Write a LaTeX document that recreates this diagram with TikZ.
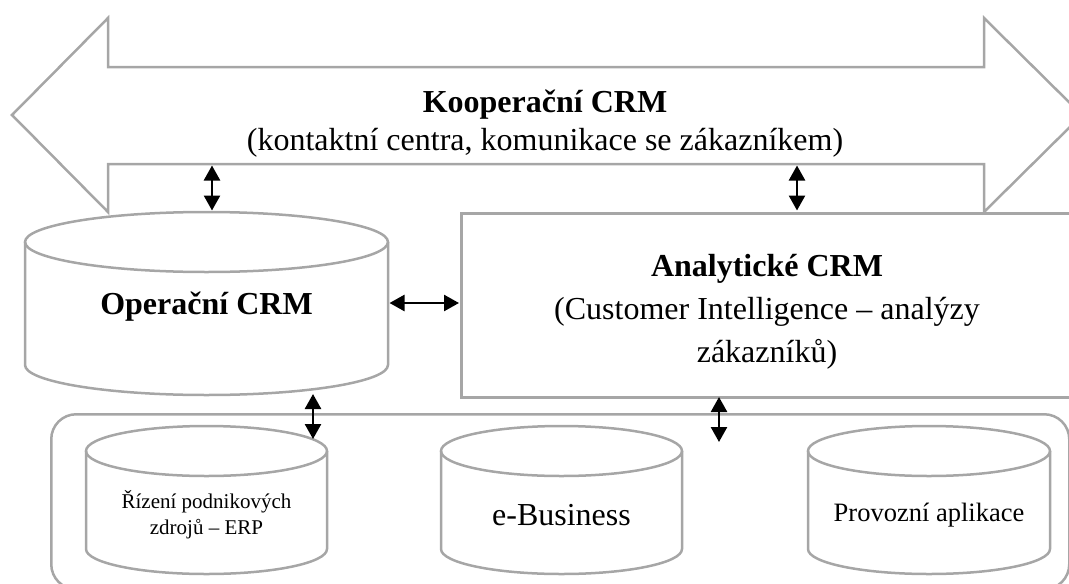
\documentclass[tikz,border=0pt]{standalone}
\usepackage{fontspec}
\setmainfont{Liberation Serif}
\usetikzlibrary{arrows.meta}
\definecolor{linegray}{RGB}{166,166,166}
\newcommand\mycyl[6]{%
  \draw[shape line] (#2-#3,#4) -- (#2-#3,#5) arc[start angle=180,end angle=360,x radius=#3pt,y radius=#6pt] -- (#2+#3,#4);
  \draw[shape line] (#2,#4) ellipse[x radius=#3pt,y radius=#6pt];
  \coordinate (#1) at (#2,#4);
}
\begin{document}
\begin{tikzpicture}[x=1pt,y=-1pt,
  shape line/.style={draw=linegray,line width=2.5pt},
  link/.style={{Triangle[length=15pt,width=16pt]}-{Triangle[length=15pt,width=16pt]},line width=2.5pt,draw=black},
  big/.style={font=\fontsize{32}{38}\selectfont,align=center,inner sep=0pt},
  small/.style={align=center,inner sep=0pt}]
\useasboundingbox (0,0) rectangle (1069,584);
\clip (0,0) rectangle (1069,584);
% cooperative double arrow
\draw[shape line] (12,115) -- (108,18) -- (108,67) -- (984,67) -- (984,18) -- (1082,115)
  -- (984,212) -- (984,164) -- (108,164) -- (108,212) -- cycle;
\node[big] (koop) at (545,124) {\textbf{Kooperační CRM}\\(kontaktní centra, komunikace se zákazníkem)};
% analytical box
\node[shape line,minimum width=615pt,minimum height=184pt,anchor=north west,inner sep=0pt] (anal) at (460,212) {};
\node[big,font=\fontsize{32}{43}\selectfont] (analtext) at (767,312) {\textbf{Analytické CRM}\\(Customer Intelligence – analýzy\\zákazníků)};
% base rounded area
\node[shape line,rounded corners=25pt,minimum width=1018pt,minimum height=175pt,anchor=north west,inner sep=0pt] (base) at (50,413) {};
% operational cylinder
\mycyl{operT}{206.5}{181.5}{242}{365}{30}
\node[big] (oper) at (206.5,307) {\textbf{Operační CRM}};
% bottom cylinders
\mycyl{erpT}{206.5}{120.5}{451}{549}{25}
\mycyl{ebusT}{561.5}{120.5}{451}{549}{25}
\mycyl{provT}{929}{121}{451}{549}{25}
\node[small,font=\fontsize{21}{26}\selectfont] (erp) at (206.5,515) {Řízení podnikových\\zdrojů – ERP};
\node[small,font=\fontsize{32}{38}\selectfont] (ebus) at (561.5,515) {e-Business};
\node[small,font=\fontsize{26.5}{32}\selectfont] (prov) at (929,515) {Provozní aplikace};
% connector end points
\coordinate (k1) at (212,165.5);
\coordinate (o1) at (212,210.5);
\coordinate (k2) at (797,165.5);
\coordinate (a1) at (797,210.5);
\coordinate (o2) at (389.5,303);
\coordinate (a2) at (459,303);
\coordinate (o3) at (313,394);
\coordinate (e1) at (313,439);
\coordinate (a3) at (719,397);
\coordinate (b1) at (719,442);
\draw[link] (k1) -- (o1);
\draw[link] (k2) -- (a1);
\draw[link] (o2) -- (a2);
\draw[link] (o3) -- (e1);
\draw[link] (a3) -- (b1);
\end{tikzpicture}
\end{document}
